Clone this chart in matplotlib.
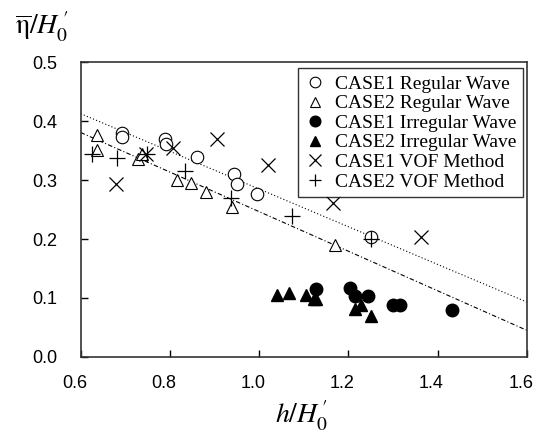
import matplotlib
matplotlib.use('Agg')
import numpy as np
import matplotlib.pyplot as plt
import matplotlib.transforms as mtransforms

plt.rcParams['mathtext.fontset'] = 'stix'

# CASE1 Regular Wave (open circles)
c1_reg_x = [0.692, 0.693, 0.789, 0.791, 0.861, 0.944, 0.950, 0.996, 1.252]
c1_reg_y = [0.381, 0.374, 0.370, 0.362, 0.339, 0.311, 0.294, 0.277, 0.203]

# CASE2 Regular Wave (open triangles)
c2_reg_x = [0.636, 0.636, 0.729, 0.737, 0.817, 0.847, 0.881, 0.940, 1.170]
c2_reg_y = [0.376, 0.352, 0.336, 0.344, 0.301, 0.295, 0.280, 0.255, 0.190]

# CASE1 Irregular Wave (filled circles)
c1_irr_x = [1.127, 1.204, 1.215, 1.245, 1.301, 1.316, 1.432]
c1_irr_y = [0.115, 0.117, 0.104, 0.103, 0.088, 0.088, 0.079]

# CASE2 Irregular Wave (filled triangles)
c2_irr_x = [1.041, 1.066, 1.105, 1.122, 1.128, 1.215, 1.228, 1.250]
c2_irr_y = [0.105, 0.108, 0.105, 0.098, 0.098, 0.081, 0.088, 0.070]

# CASE1 VOF Method (x)
c1_vof_x = [0.679, 0.747, 0.806, 0.906, 1.021, 1.166, 1.362]
c1_vof_y = [0.294, 0.344, 0.355, 0.370, 0.325, 0.261, 0.204]

# CASE2 VOF Method (+)
c2_vof_x = [0.625, 0.681, 0.749, 0.834, 0.938, 1.073, 1.252]
c2_vof_y = [0.344, 0.338, 0.344, 0.315, 0.270, 0.239, 0.200]

# fitted lines (value at x = 0.6 and x = 1.6)
fit_x = [0.6, 1.6]
fit_case1 = [0.413, 0.093]
fit_case2 = [0.381, 0.045]

fig = plt.figure(figsize=(5.39, 4.34), dpi=100)
ax = fig.add_axes([0.1497, 0.178, 0.8275, 0.678])

ax.plot(fit_x, fit_case1, color='black', lw=0.8, ls=(0, (1, 2)))
ax.plot(fit_x, fit_case2, color='black', lw=0.8, ls=(0, (4, 2, 1, 2)))

ms = 9
ax.plot(c1_reg_x, c1_reg_y, 'o', mfc='white', mec='black', mew=0.8, ms=ms,
        label='CASE1 Regular Wave')
ax.plot(c2_reg_x, c2_reg_y, '^', mfc='white', mec='black', mew=0.8, ms=ms,
        label='CASE2 Regular Wave')
ax.plot(c1_irr_x, c1_irr_y, 'o', mfc='black', mec='black', ms=ms,
        label='CASE1 Irregular Wave')
ax.plot(c2_irr_x, c2_irr_y, '^', mfc='black', mec='black', ms=ms,
        label='CASE2 Irregular Wave')
ax.plot(c1_vof_x, c1_vof_y, 'x', color='black', mew=0.9, ms=10,
        label='CASE1 VOF Method')
ax.plot(c2_vof_x, c2_vof_y, '+', color='black', mew=0.9, ms=11,
        label='CASE2 VOF Method')

ax.set_xlim(0.6, 1.6)
ax.set_ylim(0.0, 0.5)
ax.set_xticks(np.arange(0.6, 1.61, 0.2))
ax.set_yticks(np.arange(0.0, 0.51, 0.1))
ax.set_xticklabels(['0.6', '0.8', '1.0', '1.2', '1.4', '1.6'])
ax.set_yticklabels(['0.0', '0.1', '0.2', '0.3', '0.4', '0.5'])
ax.tick_params(direction='in', length=5, width=1, labelsize=13)
ax.tick_params(axis='x', pad=13)
ax.tick_params(axis='y', pad=17)
shift = mtransforms.ScaledTranslation(-0.06, 0, fig.dpi_scale_trans)
for lab in ax.get_xticklabels():
    lab.set_family('Liberation Sans')
    lab.set_transform(lab.get_transform() + shift)
for lab in ax.get_yticklabels():
    lab.set_family('Liberation Sans')
for s in ax.spines.values():
    s.set_linewidth(1.2)
    s.set_color('#333333')

leg = ax.legend(loc='upper right', prop={'family': 'Liberation Serif', 'size': 14},
                frameon=True, fancybox=False, edgecolor='black', handlelength=1.0,
                handletextpad=0.55, borderpad=0.35, labelspacing=0.1,
                borderaxespad=0, bbox_to_anchor=(0.992, 0.98), markerscale=0.85)
leg.get_frame().set_linewidth(1.0)

fig.text(0.028, 0.977, r'$\overline{\mathrm{\eta}}/H_0^{\,\prime}$', fontsize=20,
         ha='left', va='top')
fig.text(0.560, 0.080, r'$h/H_0^{\,\prime}$', fontsize=20, ha='center', va='top')

fig.savefig('out.png', dpi=100)
